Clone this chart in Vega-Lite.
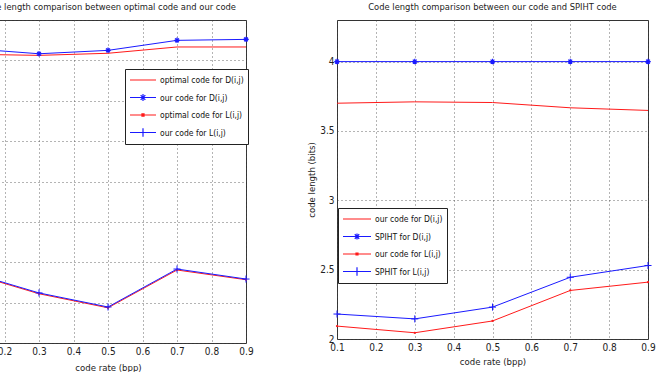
{
  "$schema": "https://vega.github.io/schema/vega-lite/v6.json",
  "padding": {"left": -38, "top": 2, "right": 0, "bottom": 0},
  "datasets": {
    "left": [
      {"series": "optimal code for D(i,j)", "x": 0.1, "y": 3.788},
      {"series": "optimal code for D(i,j)", "x": 0.3, "y": 3.781},
      {"series": "optimal code for D(i,j)", "x": 0.5, "y": 3.794},
      {"series": "optimal code for D(i,j)", "x": 0.7, "y": 3.833},
      {"series": "optimal code for D(i,j)", "x": 0.9, "y": 3.833},
      {"series": "our code for D(i,j)", "x": 0.1, "y": 3.823},
      {"series": "our code for D(i,j)", "x": 0.3, "y": 3.791},
      {"series": "our code for D(i,j)", "x": 0.5, "y": 3.812},
      {"series": "our code for D(i,j)", "x": 0.7, "y": 3.874},
      {"series": "our code for D(i,j)", "x": 0.9, "y": 3.880},
      {"series": "optimal code for L(i,j)", "x": 0.1, "y": 2.432},
      {"series": "optimal code for L(i,j)", "x": 0.3, "y": 2.305},
      {"series": "optimal code for L(i,j)", "x": 0.5, "y": 2.218},
      {"series": "optimal code for L(i,j)", "x": 0.7, "y": 2.452},
      {"series": "optimal code for L(i,j)", "x": 0.9, "y": 2.392},
      {"series": "our code for L(i,j)", "x": 0.1, "y": 2.437},
      {"series": "our code for L(i,j)", "x": 0.3, "y": 2.310},
      {"series": "our code for L(i,j)", "x": 0.5, "y": 2.223},
      {"series": "our code for L(i,j)", "x": 0.7, "y": 2.458},
      {"series": "our code for L(i,j)", "x": 0.9, "y": 2.396}
    ],
    "right": [
      {"series": "our code for D(i,j)", "x": 0.1, "y": 3.700},
      {"series": "our code for D(i,j)", "x": 0.3, "y": 3.710},
      {"series": "our code for D(i,j)", "x": 0.5, "y": 3.705},
      {"series": "our code for D(i,j)", "x": 0.7, "y": 3.667},
      {"series": "our code for D(i,j)", "x": 0.9, "y": 3.648},
      {"series": "SPIHT for D(i,j)", "x": 0.1, "y": 4.0},
      {"series": "SPIHT for D(i,j)", "x": 0.3, "y": 4.0},
      {"series": "SPIHT for D(i,j)", "x": 0.5, "y": 4.0},
      {"series": "SPIHT for D(i,j)", "x": 0.7, "y": 4.0},
      {"series": "SPIHT for D(i,j)", "x": 0.9, "y": 4.0},
      {"series": "our code for L(i,j)", "x": 0.1, "y": 2.093},
      {"series": "our code for L(i,j)", "x": 0.3, "y": 2.045},
      {"series": "our code for L(i,j)", "x": 0.5, "y": 2.130},
      {"series": "our code for L(i,j)", "x": 0.7, "y": 2.350},
      {"series": "our code for L(i,j)", "x": 0.9, "y": 2.410},
      {"series": "SPHIT for L(i,j)", "x": 0.1, "y": 2.180},
      {"series": "SPHIT for L(i,j)", "x": 0.3, "y": 2.145},
      {"series": "SPHIT for L(i,j)", "x": 0.5, "y": 2.230},
      {"series": "SPHIT for L(i,j)", "x": 0.7, "y": 2.445},
      {"series": "SPHIT for L(i,j)", "x": 0.9, "y": 2.530}
    ]
  },
  "config": {
    "font": "DejaVu Sans Condensed",
    "view": {"stroke": "#333", "strokeWidth": 1},
    "title": {"fontSize": 9.3, "fontWeight": "normal", "color": "#222", "offset": 8, "font": "DejaVu Sans Condensed"},
    "axis": {
      "labelFont": "DejaVu Sans Condensed", "titleFont": "DejaVu Sans Condensed",
      "labelFontSize": 10, "titleFontSize": 9.5, "titleFontWeight": "normal",
      "labelColor": "#222", "titleColor": "#222",
      "domain": false, "ticks": false, "labelPadding": 3,
      "gridColor": "#444", "gridDash": [1, 3], "gridOpacity": 0.8, "gridWidth": 1,
      "labelFlush": false
    },
    "legend": {
      "labelFont": "DejaVu Sans Condensed", "labelFontSize": 8.5, "labelColor": "#111",
      "strokeColor": "#222", "fillColor": "white", "padding": 4,
      "rowPadding": 3.5, "clipHeight": 14, "labelOffset": 3, "title": null
    }
  },
  "resolve": {"scale": {"color": "independent"}, "legend": {"color": "independent"}},
  "spacing": 52,
  "hconcat": [
    {
      "width": 276, "height": 323,
      "title": "Code length comparison  between optimal code and our code",
      "data": {"name": "left"},
      "encoding": {
        "x": {"field": "x", "type": "quantitative", "scale": {"domain": [0.1, 0.9]},
              "axis": {"values": [0.1, 0.2, 0.3, 0.4, 0.5, 0.6, 0.7, 0.8, 0.9], "title": "code rate (bpp)", "format": ".1f", "titlePadding": 6}},
        "y": {"field": "y", "type": "quantitative", "scale": {"domain": [2, 4]},
              "axis": {"values": [2, 2.25, 2.5, 2.75, 3, 3.25, 3.5, 3.75, 4], "labels": false, "title": null}}
      },
      "layer": [
        {
          "mark": {"type": "line", "strokeWidth": 1},
          "encoding": {
            "color": {"field": "series", "type": "nominal",
              "scale": {"domain": ["optimal code for D(i,j)", "our code for D(i,j)", "optimal code for L(i,j)", "our code for L(i,j)"],
                        "range": ["#ff1a1a", "#1a1aff", "#ff1a1a", "#1a1aff"]},
              "legend": {"orient": "none", "legendX": 155, "legendY": 49, "symbolSize": 676,
                "encode": {"symbols": {"update": {
                  "shape": {"signal": "['M-1,0H1', 'M-1,0H1M0,-0.26V0.26M-0.26,0H0.26M-0.18,-0.18L0.18,0.18M-0.18,0.18L0.18,-0.18', 'M-1,0H1M-0.08,-0.08H0.08V0.08H-0.08Z', 'M-1,0H1M0,-0.32V0.32'][datum.index]"},
                  "strokeWidth": {"value": 1.2}, "fill": {"value": "transparent"}}}}}}
          }
        },
        {"transform": [{"filter": "datum.series == 'our code for D(i,j)'"}],
         "mark": {"type": "point", "shape": "M0,-1V1M-1,0H1M-0.7,-0.7L0.7,0.7M-0.7,0.7L0.7,-0.7", "size": 30, "color": "#1a1aff", "strokeWidth": 1.2, "opacity": 1}},
        {"transform": [{"filter": "datum.series == 'optimal code for L(i,j)'"}],
         "mark": {"type": "point", "shape": "circle", "size": 5, "color": "#ff1a1a", "filled": true, "opacity": 1}},
        {"transform": [{"filter": "datum.series == 'our code for L(i,j)'"}],
         "mark": {"type": "point", "shape": "M0,-1V1M-1,0H1", "size": 50, "color": "#1a1aff", "strokeWidth": 1, "opacity": 1}}
      ]
    },
    {
      "width": 311, "height": 319,
      "title": "Code length comparison  between our code and SPIHT code",
      "data": {"name": "right"},
      "encoding": {
        "x": {"field": "x", "type": "quantitative", "scale": {"domain": [0.1, 0.9]},
              "axis": {"values": [0.1, 0.2, 0.3, 0.4, 0.5, 0.6, 0.7, 0.8, 0.9], "title": "code rate (bpp)", "format": ".1f", "titlePadding": 4}},
        "y": {"field": "y", "type": "quantitative", "scale": {"domain": [2, 4.3]},
              "axis": {"values": [2, 2.5, 3, 3.5, 4], "format": ".1~f", "title": "code length (bits)", "titlePadding": 3}}
      },
      "layer": [
        {
          "mark": {"type": "line", "strokeWidth": 1},
          "encoding": {
            "color": {"field": "series", "type": "nominal",
              "scale": {"domain": ["our code for D(i,j)", "SPIHT for D(i,j)", "our code for L(i,j)", "SPHIT for L(i,j)"],
                        "range": ["#ff1a1a", "#1a1aff", "#ff1a1a", "#1a1aff"]},
              "legend": {"orient": "none", "legendX": 1, "legendY": 188, "symbolSize": 784,
                "encode": {"symbols": {"update": {
                  "shape": {"signal": "['M-1,0H1', 'M-1,0H1M0,-0.22V0.22M-0.22,0H0.22M-0.16,-0.16L0.16,0.16M-0.16,0.16L0.16,-0.16', 'M-1,0H1M-0.07,-0.07H0.07V0.07H-0.07Z', 'M-1,0H1M0,-0.3V0.3'][datum.index]"},
                  "strokeWidth": {"value": 1.2}, "fill": {"value": "transparent"}}}}}}
          }
        },
        {"transform": [{"filter": "datum.series == 'SPIHT for D(i,j)'"}],
         "mark": {"type": "point", "shape": "M0,-1V1M-1,0H1M-0.7,-0.7L0.7,0.7M-0.7,0.7L0.7,-0.7", "size": 30, "color": "#1a1aff", "strokeWidth": 1.2, "opacity": 1}},
        {"transform": [{"filter": "datum.series == 'our code for L(i,j)'"}],
         "mark": {"type": "point", "shape": "circle", "size": 5, "color": "#ff1a1a", "filled": true, "opacity": 1}},
        {"transform": [{"filter": "datum.series == 'SPHIT for L(i,j)'"}],
         "mark": {"type": "point", "shape": "M0,-1V1M-1,0H1", "size": 50, "color": "#1a1aff", "strokeWidth": 1, "opacity": 1}}
      ]
    }
  ]
}
